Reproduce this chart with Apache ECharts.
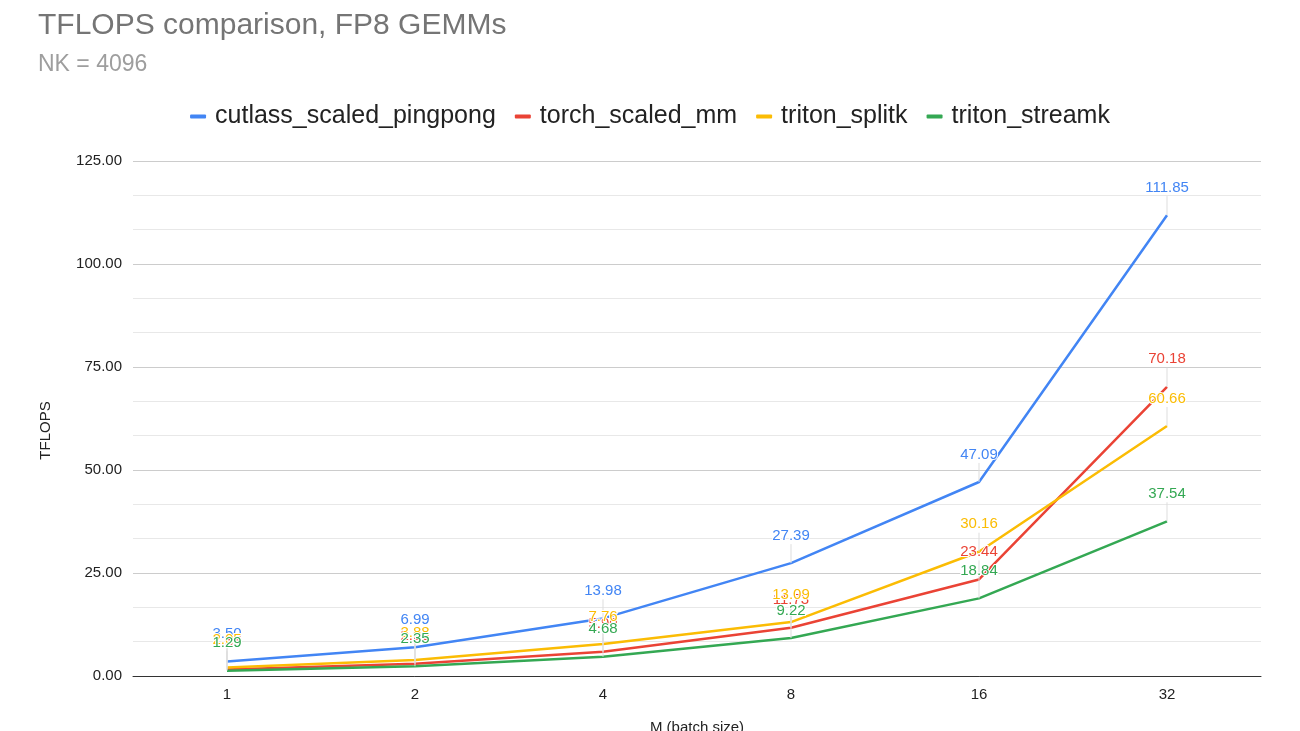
<!DOCTYPE html>
<html>
<head>
<meta charset="utf-8">
<script src="https://cdn.jsdelivr.net/npm/echarts@6/dist/echarts.min.js"></script>
<style>html,body{margin:0;padding:0;background:#fff}#c{width:1300px;height:731px}</style>
</head>
<body>
<div id="c"></div>
<script>
const categories = ['1', '2', '4', '8', '16', '32'];
const cutlassScaledPingpong = [3.50, 6.99, 13.98, 27.39, 47.09, 111.85];
const torchScaledMm = [1.55, 2.95, 5.90, 11.73, 23.44, 70.18];
const tritonSplitk = [2.05, 3.88, 7.76, 13.09, 30.16, 60.66];
const tritonStreamk = [1.29, 2.35, 4.68, 9.22, 18.84, 37.54];
const yTicks = [0, 25, 50, 75, 100, 125];

const FONT = '"Liberation Sans", Arial, sans-serif';
const seriesDefs = [
  { name: 'cutlass_scaled_pingpong', data: cutlassScaledPingpong, color: '#4285F4' },
  { name: 'torch_scaled_mm', data: torchScaledMm, color: '#EA4335' },
  { name: 'triton_splitk', data: tritonSplitk, color: '#FBBC04' },
  { name: 'triton_streamk', data: tritonStreamk, color: '#34A853' }
];

const chart = echarts.init(document.getElementById('c'), null, { renderer: 'canvas' });
chart.setOption({
  backgroundColor: '#fff',
  animation: false,
  title: {
    text: 'TFLOPS comparison, FP8 GEMMs',
    subtext: 'NK = 4096',
    left: 33, top: 6,
    itemGap: 12,
    textStyle: { fontFamily: FONT, fontSize: 30, fontWeight: 'normal', color: '#757575' },
    subtextStyle: { fontFamily: FONT, fontSize: 23, color: '#9e9e9e' }
  },
  legend: {
    top: 99, left: 'center',
    icon: 'roundRect', itemWidth: 16, itemHeight: 4, itemGap: 19,
    textStyle: { fontFamily: FONT, fontSize: 25, color: '#222', padding: [0, 0, 0, 4] },
    data: seriesDefs.map(s => ({ name: s.name, itemStyle: { color: s.color, opacity: 1 } }))
  },
  grid: { left: 133, right: 39, top: 161, bottom: 55, containLabel: false, outerBoundsMode: 'none' },
  xAxis: {
    type: 'category',
    data: categories,
    boundaryGap: true,
    name: 'M (batch size)',
    nameLocation: 'middle',
    nameGap: 44,
    nameTextStyle: { fontFamily: FONT, fontSize: 15, color: '#222' },
    axisLine: { show: true, lineStyle: { color: '#333', width: 1 } },
    axisTick: { show: false },
    axisLabel: { fontFamily: FONT, fontSize: 15, color: '#222', margin: 11 },
    splitLine: { show: false }
  },
  yAxis: {
    type: 'value',
    min: yTicks[0], max: yTicks[yTicks.length - 1], interval: 25,
    name: 'TFLOPS',
    nameLocation: 'middle',
    nameGap: 80,
    nameTextStyle: { fontFamily: FONT, fontSize: 15, color: '#222', padding: [0, 24, 0, 0] },
    axisLine: { show: false },
    axisTick: { show: false },
    axisLabel: { fontFamily: FONT, fontSize: 15, color: '#222', margin: 11, formatter: v => v.toFixed(2) },
    splitLine: { show: true, lineStyle: { color: '#cccccc', width: 1 } },
    minorTick: { show: false, splitNumber: 3 },
    minorSplitLine: { show: true, lineStyle: { color: '#e8e8e8', width: 1 } }
  },
  series: seriesDefs.map(s => ({
    name: s.name,
    type: 'line',
    data: s.data,
    color: s.color,
    symbol: 'circle',
    symbolSize: 0.1,
    showSymbol: true,
    itemStyle: { color: s.color },
    lineStyle: { width: 2.5, color: s.color },
    label: {
      show: true,
      position: 'top',
      distance: 2,
      fontFamily: FONT,
      fontSize: 15,
      color: s.color,
      textBorderColor: '#ffffff',
      textBorderWidth: 2,
      formatter: p => Number(p.value).toFixed(2)
    },
    labelLayout: { dy: -18 },
    labelLine: { show: true, lineStyle: { color: '#dddddd', width: 1 } }
  }))
});
</script>
</body>
</html>
